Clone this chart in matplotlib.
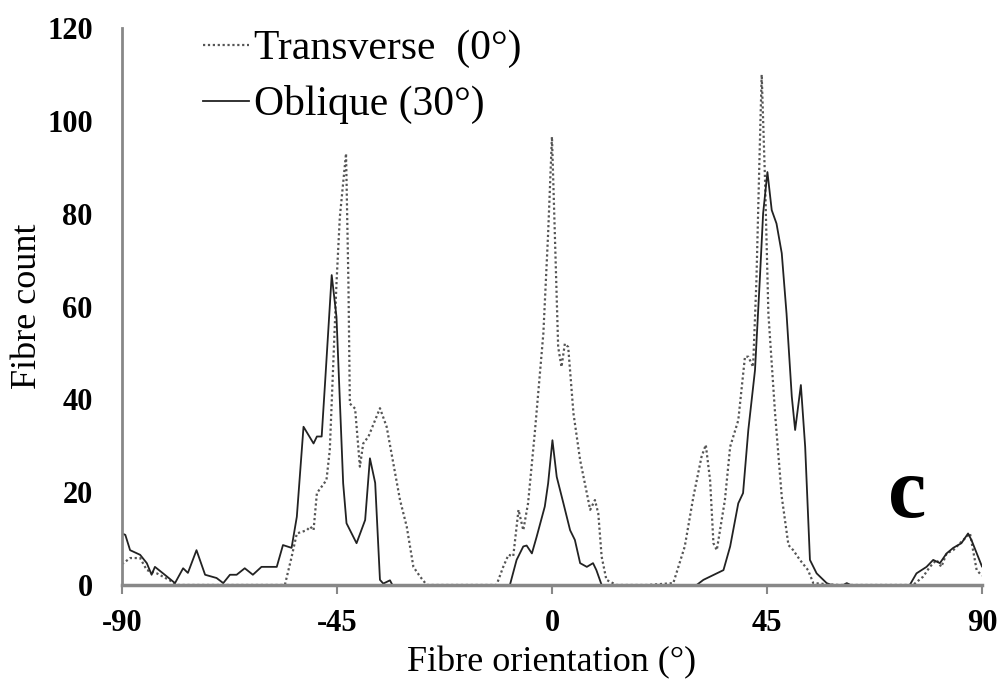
import matplotlib
matplotlib.use("Agg")
import matplotlib.pyplot as plt

# Transverse (0°) - dotted
trans_x = [-90, -89.7, -88.3, -86.2, -84.8, -82.7, -80, -78.5, -70, -65, -60, -55.9, -54.5, -53.4,
           -51.3, -50.6, -49.9, -49.2, -48.2, -47.2, -46.5, -45.8, -45.1, -44.4, -43.1, -42.6, -42.3,
           -41.2, -40.2, -39.5, -38.4, -36.0, -34.6, -33.2, -31.8, -30.4, -29.0, -27.6, -26.2, -20,
           -15, -11.6, -10.2, -9.1, -8.1, -7.0, -6.0, -5.0, -3.6, -1.8, -0.8, 0.0, 0.6, 1.3, 2.0, 2.7,
           3.4, 4.5, 5.9, 7.3, 8.0, 9.0, 9.7, 10.4, 11.4, 13.5, 20, 25.4, 27.8, 29.6, 31.3, 32.2, 33.1,
           33.8, 34.5, 36.2, 37.3, 39.0, 40.4, 41.1, 42.1, 42.8, 43.5, 43.9, 44.6, 45.3, 46.7, 48.1,
           49.5, 50.5, 51.9, 53.6, 54.7, 60, 70, 75.6, 77.7, 79.1, 80.5, 81.5, 82.6, 84.0, 85.4, 87.5,
           88.9, 90]
trans_y = [4.5, 4.7, 5.8, 5.8, 3.2, 2.5, 1.0, 0, 0, 0, 0, 0, 6, 11.1,
           11.8, 12.6, 11.8, 19.8, 21.2, 22.6, 29.1, 47, 65, 79.3, 93, 65, 39.1,
           38, 25.5, 30.5, 32, 38.1, 34.1, 26.2, 18.3, 12.6, 3.9, 1.8, 0, 0,
           0, 0, 3.9, 6.5, 6.2, 16.2, 11.8, 17.6, 32.7, 54.2, 75.8, 96.6, 75.8, 51.3, 47, 52,
           51.3, 37, 26.9, 19.8, 16.2, 18.3, 15.4, 6.1, 1.1, 0, 0, 0.4, 8.3, 19, 27.6, 30.2, 22.6,
           9, 7.5, 18.3, 29.8, 35.5, 49.2, 49.2, 47, 65.7, 94.4, 110, 87.2, 58.5, 37, 19,
           8.6, 7.5, 5.4, 3.2, 0.4, 0, 0, 0, 1.8, 3.9, 5.4, 3.9, 6.8, 7.5, 9, 11.1,
           3.2, 2]

# Oblique (30°) - solid
obl_x = [-90, -89.3, -88.3, -86.2, -84.8, -83.8, -83.1, -81.4, -78.9, -77.2, -76.2, -74.4, -72.6,
         -70.2, -68.8, -67.4, -66.0, -64.3, -62.6, -60.8, -57.6, -56.3, -54.5, -53.4, -52.0, -49.9,
         -49.2, -48.2, -47.5, -46.1, -45.1, -43.7, -43.0, -40.9, -39.1, -38.1, -37.0, -36.0, -35.3,
         -33.9, -33.4, -20, -8.8, -7.4, -6.0, -5.3, -4.2, -3.2, -1.5, -0.8, 0.1, 1.0, 2.4, 3.8, 4.8,
         5.9, 7.3, 8.6, 9.3, 10.4, 20, 30.3, 31.7, 34.5, 35.9, 37.3, 39.0, 40.0, 41.1, 42.5, 43.5,
         44.2, 45.1, 46.0, 47.0, 48.1, 49.1, 50.2, 50.9, 52.1, 53.0, 54.0, 55.4, 57.5, 58.5, 61.0,
         61.7, 62.5, 74.9, 76.3, 78.4, 79.8, 81.2, 82.6, 84.0, 85.7, 87.1, 87.8, 90]
obl_y = [11.1, 10.8, 7.5, 6.5, 4.7, 2.2, 3.9, 2.5, 0.4, 3.6, 2.6, 7.5, 2.2,
         1.5, 0.4, 2.2, 2.2, 3.6, 2.2, 3.9, 3.9, 8.6, 8.0, 14.7, 34.1, 30.5,
         32, 32, 43.4, 66.8, 57.8, 21.9, 13.3, 9.0, 14, 27.3, 22, 1.1, 0.3,
         1.0, 0, 0, 0, 5.4, 8.3, 8.5, 6.8, 10.4, 16.9, 21.9, 31.2, 23.3, 17.6, 11.8, 9.7,
         4.7, 3.9, 4.7, 3.2, 0, 0, 0, 1.1, 2.5, 3.2, 8.3, 17.6, 19.8, 33.4, 46.3, 65.7,
         80.1, 89, 80.8, 77.9, 71.5, 58.5, 40.6, 33.4, 43.1, 29.8, 5.4, 2.5, 0.4, 0, 0,
         0.4, 0, 0, 2.5, 3.9, 5.4, 4.7, 6.8, 8, 9, 11.1, 9.7, 4]

x_ticks = [-90, -45, 0, 45, 90]
y_ticks = [0, 20, 40, 60, 80, 100, 120]

plt.rcParams['font.family'] = ['Liberation Serif', 'DejaVu Serif']
plt.rcParams['axes.unicode_minus'] = False

fig = plt.figure(figsize=(10.03, 6.89), dpi=100)
ax = fig.add_axes([0.1216, 0.151, 0.8574, 0.808])

ax.plot(trans_x, trans_y, linestyle=(0, (1, 1.2)), color='#555555', linewidth=1.6,
        label='Transverse  (0°)')
ax.plot(obl_x, obl_y, linestyle='-', color='#222222', linewidth=1.3, label='Oblique (30°)')

ax.set_xlim(-90, 90)
ax.set_ylim(0, 120)
ax.set_xticks(x_ticks)
ax.set_yticks(y_ticks)

for s in ['top', 'right']:
    ax.spines[s].set_visible(False)
ax.spines['left'].set_color('#888888')
ax.spines['left'].set_linewidth(2)
ax.spines['bottom'].set_color('#888888')
ax.spines['bottom'].set_linewidth(2.5)

ax.tick_params(axis='x', direction='out', length=6.5, width=1.5, color='#888888', pad=11,
               labelsize=22)
ax.tick_params(axis='y', length=0, pad=21, labelsize=22)
for lab in ax.get_xticklabels() + ax.get_yticklabels():
    lab.set_fontweight('bold')

ax.set_xlabel('Fibre orientation (°)', fontsize=26, labelpad=6)
ax.set_ylabel('Fibre count', fontsize=26, labelpad=2)

ax.legend(loc='upper left', bbox_to_anchor=(0.094, 0.997), frameon=False, fontsize=30,
          handlelength=1.1, handletextpad=0.12, labelspacing=0.4, borderpad=0,
          borderaxespad=0)

ax.text(74.3, 19, 'c', fontsize=62, fontweight='bold', ha='center', va='center')

fig.savefig('out.png', dpi=100)
